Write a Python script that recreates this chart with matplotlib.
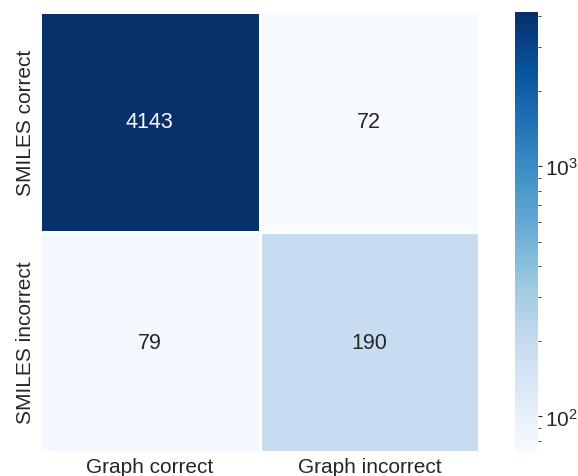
import matplotlib
matplotlib.use("Agg")
import matplotlib.pyplot as plt
import seaborn as sns
import numpy as np
from matplotlib.colors import LogNorm

sns.set_theme(style="white", font_scale=1.3)
plt.rcParams['font.family'] = ['Liberation Sans', 'DejaVu Sans']

row_labels = ['SMILES correct', 'SMILES incorrect']
col_labels = ['Graph correct', 'Graph incorrect']
counts = np.array([[4143, 72],
                   [79, 190]])

fig = plt.figure(figsize=(5.78, 4.77), dpi=100)
ax = fig.add_axes([0.069, 0.05, 0.76, 0.923])
cax = fig.add_axes([0.891, 0.05, 0.040, 0.923])

sns.heatmap(counts, ax=ax, cbar_ax=cax, cmap='Blues',
            norm=LogNorm(vmin=counts.min(), vmax=counts.max()),
            annot=True, fmt='d', linewidths=2, linecolor='white',
            xticklabels=col_labels, yticklabels=row_labels,
            annot_kws={'fontsize': 15.5})
ax.tick_params(labelsize=15, length=0)
ax.set_yticklabels(row_labels, rotation=90, va='center')
cax.tick_params(which='both', labelsize=15, pad=2)
cax.tick_params(which='major', length=3, width=0.8)
cax.tick_params(which='minor', length=2, width=0.6)

fig.savefig('out.png', dpi=100)
